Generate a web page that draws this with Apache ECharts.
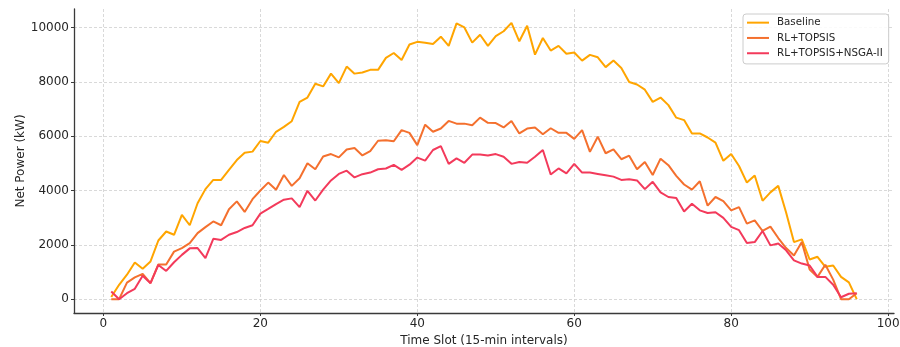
<!DOCTYPE html>
<html>
<head>
<meta charset="utf-8">
<script src="https://cdn.jsdelivr.net/npm/echarts@6.0.0/dist/echarts.min.js"></script>
<style>
  html, body { margin: 0; padding: 0; background: #ffffff; }
  #chart { width: 900px; height: 347px; }
</style>
</head>
<body>
<div id="chart"></div>
<script>
// 96 quarter-hour slots of one day
const timeSlots = Array.from({ length: 96 }, (_, i) => i + 1);

// Net power per slot (kW)
const baseline = [
  80, 530, 900, 1350, 1120, 1390, 2160, 2490, 2370, 3100,
  2720, 3530, 4050, 4390, 4390, 4760, 5120, 5390, 5430, 5820,
  5760, 6160, 6340, 6550, 7260, 7420, 7930, 7830, 8300, 7950,
  8560, 8300, 8340, 8440, 8440, 8880, 9060, 8800, 9370, 9470,
  9440, 9390, 9660, 9320, 10150, 10000, 9440, 9730, 9320, 9680,
  9860, 10170, 9490, 10060, 9000, 9610, 9150, 9320, 9030, 9080,
  8780, 8990, 8900, 8540, 8780, 8510, 7990, 7900, 7710, 7260,
  7420, 7140, 6680, 6590, 6100, 6100, 5950, 5760, 5090, 5340,
  4900, 4290, 4550, 3620, 3930, 4170, 3190, 2100, 2200, 1460,
  1560, 1190, 1240, 820, 620, 0
];
const rlTopsis = [
  0, 0, 610, 800, 930, 590, 1280, 1280, 1750, 1880,
  2060, 2430, 2650, 2860, 2720, 3310, 3600, 3210, 3680, 4000,
  4290, 4030, 4570, 4170, 4450, 5000, 4780, 5250, 5340, 5220,
  5510, 5560, 5290, 5450, 5830, 5850, 5810, 6220, 6120, 5670,
  6420, 6160, 6280, 6560, 6460, 6460, 6400, 6680, 6490, 6480,
  6320, 6560, 6100, 6280, 6320, 6070, 6290, 6120, 6120, 5900,
  6220, 5420, 5980, 5370, 5510, 5150, 5280, 4780, 5050, 4570,
  5170, 4930, 4540, 4220, 4030, 4340, 3440, 3760, 3610, 3270,
  3390, 2780, 2900, 2510, 2670, 2250, 1880, 1610, 2100, 1090,
  820, 1270, 720, 0, 0, 220
];
const rlTopsisNsga = [
  280, 0, 220, 380, 860, 590, 1260, 1040, 1360, 1630,
  1870, 1880, 1510, 2220, 2180, 2370, 2470, 2620, 2720, 3150,
  3320, 3500, 3660, 3710, 3390, 3990, 3630, 4030, 4370, 4610,
  4730, 4480, 4600, 4660, 4780, 4810, 4940, 4760, 4950, 5210,
  5100, 5490, 5630, 4980, 5180, 5020, 5320, 5320, 5290, 5340,
  5240, 4980, 5050, 5020, 5240, 5490, 4590, 4810, 4630, 4980,
  4660, 4660, 4610, 4560, 4510, 4390, 4410, 4370, 4050, 4320,
  3930, 3760, 3720, 3230, 3510, 3270, 3170, 3200, 2990, 2660,
  2540, 2070, 2100, 2510, 1980, 2050, 1800, 1430, 1310, 1240,
  820, 820, 530, 70, 200, 220
];

const seriesNames = ['Baseline', 'RL+TOPSIS', 'RL+TOPSIS+NSGA-II'];
const seriesColors = ['#FFA500', '#F4702E', '#F33A5B'];
const xTicks = [0, 20, 40, 60, 80, 100];
const yTicks = [0, 2000, 4000, 6000, 8000, 10000];

// 5% padding on both ends of each data range
function padded(lo, hi) {
  const m = (hi - lo) * 0.05;
  return [lo - m, hi + m];
}
const [xMin, xMax] = padded(Math.min(...timeSlots), Math.max(...timeSlots));
const allValues = baseline.concat(rlTopsis, rlTopsisNsga);
const [yMin, yMax] = padded(Math.min(...allValues), Math.max(...allValues));

const FONT = 'DejaVu Sans';
const TEXT = '#262626';
const AXIS = '#3a3a3a';

function toPairs(values) {
  return timeSlots.map((t, i) => [t, values[i]]);
}

const seriesValues = [baseline, rlTopsis, rlTopsisNsga];
const plainNumber = v => String(Math.round(v));

const chart = echarts.init(document.getElementById('chart'), null, { renderer: 'canvas' });
chart.setOption({
  animation: false,
  backgroundColor: '#ffffff',
  textStyle: { fontFamily: FONT },
  grid: { left: 74, right: 6, top: 9, bottom: 34, containLabel: false, outerBoundsMode: 'none' },
  xAxis: {
    type: 'value',
    min: xMin,
    max: xMax,
    name: 'Time Slot (15-min intervals)',
    nameLocation: 'middle',
    nameGap: 22,
    nameMoveOverlap: false,
    nameTextStyle: { fontFamily: FONT, fontSize: 12, color: TEXT },
    axisLine: { show: true, onZero: false, lineStyle: { color: AXIS, width: 1.3 } },
    axisTick: { show: true, length: 3, customValues: xTicks, lineStyle: { color: AXIS, width: 1 } },
    axisLabel: { customValues: xTicks, formatter: plainNumber, margin: 5, fontFamily: FONT, fontSize: 12, color: TEXT },
    splitLine: { show: true, lineStyle: { color: '#cfcfcf', width: 0.8, type: [3, 2] } }
  },
  yAxis: {
    type: 'value',
    min: yMin,
    max: yMax,
    name: 'Net Power (kW)',
    nameLocation: 'middle',
    nameGap: 47,
    nameRotate: 90,
    nameMoveOverlap: false,
    nameTextStyle: { fontFamily: FONT, fontSize: 12, color: TEXT },
    axisLine: { show: true, onZero: false, lineStyle: { color: AXIS, width: 1.3 } },
    axisTick: { show: true, length: 3, customValues: yTicks, lineStyle: { color: AXIS, width: 1 } },
    axisLabel: { customValues: yTicks, formatter: plainNumber, margin: 5, fontFamily: FONT, fontSize: 12, color: TEXT },
    splitLine: { show: true, lineStyle: { color: '#cfcfcf', width: 0.8, type: [3, 2] } }
  },
  legend: {
    orient: 'vertical',
    left: 743,
    top: 14,
    padding: [1, 6, 3, 4],
    itemGap: 0,
    itemWidth: 22,
    itemHeight: 2,
    icon: 'rect',
    backgroundColor: 'rgba(255,255,255,0.85)',
    borderColor: '#cccccc',
    borderWidth: 1,
    borderRadius: 3,
    textStyle: { fontFamily: FONT, fontSize: 10.3, color: TEXT, lineHeight: 15.3, padding: [0, 0, 0, 3] },
    data: seriesNames
  },
  series: seriesNames.map((name, i) => ({
    name: name,
    type: 'line',
    data: toPairs(seriesValues[i]),
    showSymbol: false,
    symbol: 'none',
    color: seriesColors[i],
    lineStyle: { color: seriesColors[i], width: 2 },
    z: 2 + i
  }))
});
</script>
</body>
</html>
